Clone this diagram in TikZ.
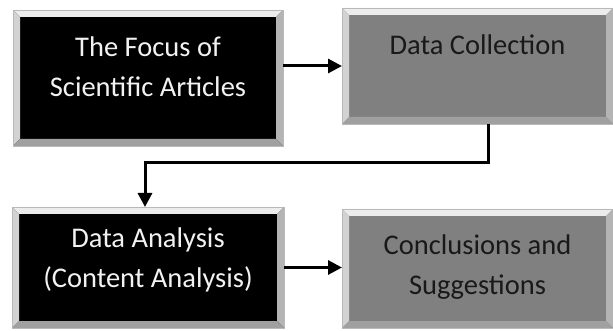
\documentclass[tikz,border=0pt]{standalone}
\usepackage{fontspec}
\setmainfont{Carlito}
\usetikzlibrary{arrows.meta, positioning}
\definecolor{boxgray}{RGB}{128,128,128}
\definecolor{bevtop}{RGB}{236,236,236}
\definecolor{bevleft}{RGB}{210,210,210}
\definecolor{bevright}{RGB}{180,180,180}
\definecolor{bevbottom}{RGB}{160,160,160}
\tikzset{
  bevelbox/.style={
    rectangle, draw=gray!55, line width=0.6pt,
    inner sep=0pt, outer sep=0pt,
    path picture={
      \coordinate (nw) at (path picture bounding box.north west);
      \coordinate (ne) at (path picture bounding box.north east);
      \coordinate (sw) at (path picture bounding box.south west);
      \coordinate (se) at (path picture bounding box.south east);
      \fill[bevtop] (nw) -- (ne) -- ([shift={(-7pt,-7pt)}]ne) -- ([shift={(7pt,-7pt)}]nw) -- cycle;
      \fill[bevleft] (nw) -- (sw) -- ([shift={(7pt,7pt)}]sw) -- ([shift={(7pt,-7pt)}]nw) -- cycle;
      \fill[bevright] (ne) -- (se) -- ([shift={(-7pt,7pt)}]se) -- ([shift={(-7pt,-7pt)}]ne) -- cycle;
      \fill[bevbottom] (sw) -- (se) -- ([shift={(-7pt,7pt)}]se) -- ([shift={(7pt,7pt)}]sw) -- cycle;
    }
  },
  darkbox/.style={bevelbox, fill=black},
  graybox/.style={bevelbox, fill=boxgray},
  boxtext/.style={
    font=\fontsize{28.5}{40}\selectfont, align=center,
    inner sep=0pt, anchor=north
  },
  arrow/.style={line width=3pt, -{Triangle[length=14pt,width=14pt]}},
}

\begin{document}
\begin{tikzpicture}[x=1pt, y=1pt]
  \useasboundingbox (0,0) rectangle (613,-331);

  \node (focus)    [darkbox, minimum width=270pt, minimum height=136pt,
                    label={[boxtext, text=white!95!black, yshift=-27pt]north:The Focus of\\Scientific Articles}]
                   at (148,-78) {};
  \node (collect)  [graybox, minimum width=271pt, minimum height=116pt,
                    right=59pt of focus, yshift=12pt,
                    label={[boxtext, text=black!90, yshift=-27pt]north:Data Collection}] {};
  \node (analysis) [darkbox, minimum width=272pt, minimum height=121pt,
                    below=61pt of focus,
                    label={[boxtext, text=white!95!black, yshift=-21pt]north:Data Analysis\\(Content Analysis)}] {};
  \node (concl)    [graybox, minimum width=271pt, minimum height=119pt,
                    right=58pt of analysis, yshift=-1pt,
                    label={[boxtext, text=black!90, yshift=-26pt]north:Conclusions and\\Suggestions}] {};

  \draw [arrow] (focus.east |- collect.west) -- (collect.west);
  \draw [arrow] ([xshift=10.5pt]collect.south) -- ++(0,-39) -| ([xshift=-3pt]analysis.north);
  \draw [arrow] (analysis.east) -- (analysis.east -| concl.west);
\end{tikzpicture}
\end{document}
